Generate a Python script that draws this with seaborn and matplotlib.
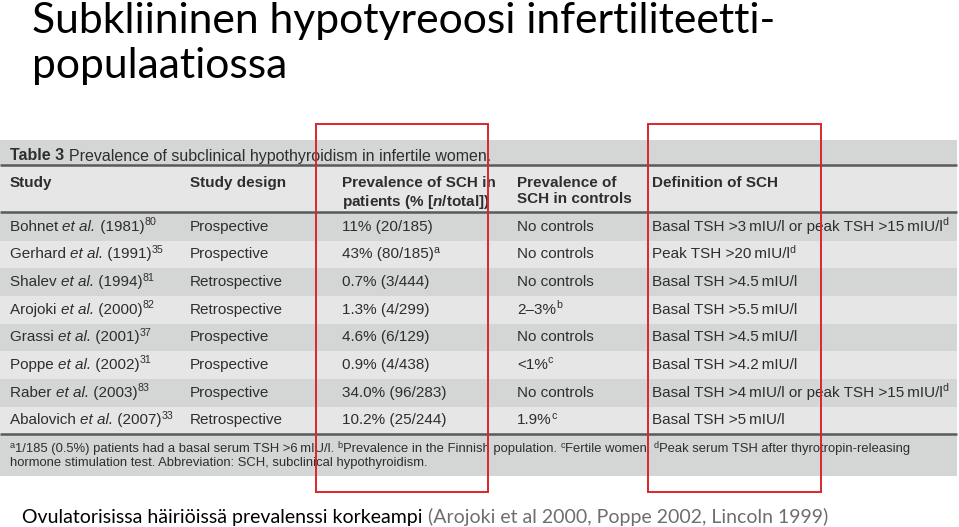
import matplotlib
matplotlib.use("Agg")
import matplotlib.pyplot as plt
import seaborn as sns
from matplotlib.patches import Rectangle

sns.set_theme(style="white")
plt.rcParams['font.family'] = ['Liberation Sans', 'DejaVu Sans']
plt.rcParams['mathtext.fontset'] = 'custom'
plt.rcParams['mathtext.rm'] = 'Liberation Sans'
plt.rcParams['mathtext.it'] = 'Liberation Sans:italic'
plt.rcParams['mathtext.bf'] = 'Liberation Sans:bold'
plt.rcParams['mathtext.bfit'] = 'Liberation Sans:bold:italic'

# ---- data ----
page_title = ["Subkliininen hypotyreoosi infertiliteetti-", "populaatiossa"]
table_title_bold = "Table 3"
table_title_rest = "Prevalence of subclinical hypothyroidism in infertile women."
headers = ["Study", "Study design",
           "Prevalence of SCH in\npatients (% [$\\mathbfit{n}$/total])",
           "Prevalence of\nSCH in controls", "Definition of SCH"]
authors = ["Bohnet", "Gerhard", "Shalev", "Arojoki", "Grassi", "Poppe", "Raber", "Abalovich"]
years = ["1981", "1991", "1994", "2000", "2001", "2002", "2003", "2007"]
refs = ["80", "35", "81", "82", "37", "31", "83", "33"]
designs = ["Prospective", "Prospective", "Retrospective", "Retrospective",
           "Prospective", "Prospective", "Prospective", "Retrospective"]
prevalence = ["11% (20/185)", "43% (80/185)", "0.7% (3/444)", "1.3% (4/299)",
              "4.6% (6/129)", "0.9% (4/438)", "34.0% (96/283)", "10.2% (25/244)"]
prev_sup = ["", "a", "", "", "", "", "", ""]
controls = ["No controls", "No controls", "No controls", "2–3%",
            "No controls", "<1%", "No controls", "1.9%"]
controls_sup = ["", "", "", "b", "", "c", "", "c"]
definitions = ["Basal TSH >3\u2009mIU/l or peak TSH >15\u2009mIU/l", "Peak TSH >20\u2009mIU/l",
               "Basal TSH >4.5\u2009mIU/l", "Basal TSH >5.5\u2009mIU/l", "Basal TSH >4.5\u2009mIU/l",
               "Basal TSH >4.2\u2009mIU/l", "Basal TSH >4\u2009mIU/l or peak TSH >15\u2009mIU/l",
               "Basal TSH >5\u2009mIU/l"]
def_sup = ["d", "d", "", "", "", "", "d", ""]
foot_sups = ["a", "b", "c", "d"]
foot_texts = ["1/185 (0.5%) patients had a basal serum TSH >6\u2009mIU/l.",
              "Prevalence in the Finnish population.",
              "Fertile women.",
              "Peak serum TSH after thyrotropin-releasing"]
foot_line2 = "hormone stimulation test. Abbreviation: SCH, subclinical hypothyroidism."
bottom_main = "Ovulatorisissa häiriöissä prevalenssi korkeampi"
bottom_ref = "(Arojoki et al 2000, Poppe 2002, Lincoln 1999)"

# ---- figure ----
fig = plt.figure(figsize=(9.59, 5.27), dpi=100)
ax = fig.add_axes([0, 0, 1, 1])
ax.set_xlim(0, 959)
ax.set_ylim(527, 0)
ax.axis('off')
renderer = fig.canvas.get_renderer()

TXT = '#2e2e2e'
DARK = '#d4d5d5'
LIGHT = '#e6e6e6'
LINE = '#5a5a5a'
TL, TR = 0, 957
TITLE_FONT = ['Lato', 'DejaVu Sans']

def band(y0, y1, c):
    ax.add_patch(Rectangle((TL, y0), TR - TL, y1 - y0, facecolor=c, edgecolor='none', zorder=0))

def advance(s, fs, **opts):
    """Advance width in px of string s (including trailing spaces/kerning)."""
    a = ax.text(0, 0, s + "X", fontsize=fs, **opts)
    b = ax.text(0, 0, "X", fontsize=fs, **opts)
    w = a.get_window_extent(renderer=renderer).width - b.get_window_extent(renderer=renderer).width
    a.remove(); b.remove()
    return w

def segments(x, y, parts, fs, color=TXT):
    """parts: list of (text, kind), kind in 'n' normal, 'i' italic, 'b' bold, 's' superscript."""
    for s, kind in parts:
        if not s:
            continue
        opts = {}
        size = fs
        yy = y
        if kind == 'i':
            opts['style'] = 'italic'
        elif kind == 'b':
            opts['weight'] = 'bold'
        elif kind == 's':
            size = fs * 0.7
            yy = y - fs * 0.42
        ax.text(x, yy, s, fontsize=size, color=color, va='center', ha='left', **opts)
        x += advance(s, size, **opts)
    return x

band(140, 165, DARK)
band(165, 212, LIGHT)
row_top = 213.0
row_h = 27.65
for i in range(len(authors)):
    band(row_top + i * row_h, row_top + (i + 1) * row_h, DARK if i % 2 == 0 else LIGHT)
band(434, 476, DARK)
for yl in (165, 212, 434):
    ax.plot([TL, TR], [yl, yl], color=LINE, lw=1.8, zorder=1, solid_capstyle='butt')

# page title
for txt, yb in zip(page_title, (33, 78)):
    ax.text(32, yb, txt, fontsize=30.7, family=TITLE_FONT, fontweight='normal',
            color='#000000', va='baseline', ha='left')

# table title
segments(10, 156, [(table_title_bold + " ", 'b'), (table_title_rest, 'n')], 11.5)

# headers
hx = [10, 190, 342, 517, 652]
for x, h in zip(hx, headers):
    ax.text(x, 176, h, fontsize=11, fontweight='bold', color=TXT, va='top', ha='left',
            linespacing=1.2)

FS = 11
for i in range(len(authors)):
    y = row_top + (i + 0.5) * row_h
    segments(hx[0], y, [(authors[i] + " ", 'n'), ("et al.", 'i'),
                        (" (" + years[i] + ")", 'n'), (refs[i], 's')], FS)
    segments(hx[1], y, [(designs[i], 'n')], FS)
    segments(hx[2], y, [(prevalence[i], 'n'), (prev_sup[i], 's')], FS)
    segments(hx[3], y, [(controls[i], 'n'), (controls_sup[i], 's')], FS)
    segments(hx[4], y, [(definitions[i], 'n'), (def_sup[i], 's')], FS)

FFS = 9.4
parts = []
for k, (s, t) in enumerate(zip(foot_sups, foot_texts)):
    parts.append((s, 's'))
    parts.append((t + (" " if k < len(foot_texts) - 1 else ""), 'n'))
segments(10, 449, parts, FFS)
segments(10, 463, [(foot_line2, 'n')], FFS)

# red highlight boxes
for x0, x1 in ((316, 488), (648, 821)):
    ax.add_patch(Rectangle((x0, 124), x1 - x0, 492 - 124, facecolor='none',
                           edgecolor='#d9262b', lw=1.4, zorder=5))

# bottom text
BFS = 14.0
x_end = 22 + advance(bottom_main + " ", BFS, family=TITLE_FONT)
ax.text(22, 523, bottom_main, fontsize=BFS, family=TITLE_FONT, fontweight='normal',
        color='#000000', va='baseline', ha='left')
ax.text(x_end, 523, bottom_ref, fontsize=BFS, family=TITLE_FONT, fontweight='normal',
        color='#6e6e6e', va='baseline', ha='left')

fig.savefig("out.png", dpi=100)
